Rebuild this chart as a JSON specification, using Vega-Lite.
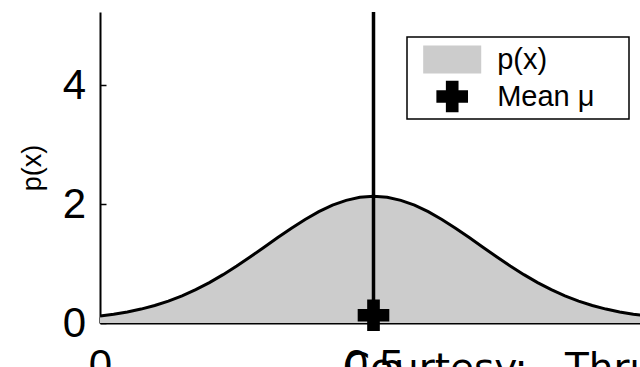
{
  "$schema": "https://vega.github.io/schema/vega-lite/v6.json",
  "width": 540,
  "height": 311,
  "autosize": {"type": "none"},
  "padding": {"left": 100, "top": 12, "right": 0, "bottom": 44},
  "background": "white",
  "config": {
    "view": {"stroke": null},
    "font": "Liberation Sans",
    "axis": {
      "grid": false,
      "domainColor": "black",
      "domainWidth": 2,
      "tickColor": "black",
      "tickWidth": 1.5,
      "tickSize": -6,
      "labelColor": "black",
      "labelFont": "Liberation Sans",
      "labelFontSize": 42,
      "titleColor": "black",
      "titleFont": "Liberation Sans",
      "titleFontWeight": "normal"
    },
    "legend": {
      "orient": "none",
      "legendX": 307,
      "legendY": 25,
      "strokeColor": "black",
      "strokeWidth": 1.5,
      "fillColor": "white",
      "padding": 6.5,
      "symbolSize": 1000,
      "symbolOffset": 22.7,
      "labelOffset": 29,
      "rowPadding": 6,
      "symbolStrokeWidth": 0,
      "labelFont": "Liberation Sans",
      "labelFontSize": 29,
      "labelColor": "black",
      "labelLimit": 400,
      "titleOrient": "right",
      "titleFontSize": 8,
      "titlePadding": 25,
      "titleColor": "white"
    }
  },
  "datasets": {
    "curve": [
      {"x": 0.000, "y": 0.118, "series": "p(x)"},
      {"x": 0.025, "y": 0.148, "series": "p(x)"},
      {"x": 0.050, "y": 0.186, "series": "p(x)"},
      {"x": 0.075, "y": 0.234, "series": "p(x)"},
      {"x": 0.100, "y": 0.295, "series": "p(x)"},
      {"x": 0.125, "y": 0.369, "series": "p(x)"},
      {"x": 0.150, "y": 0.457, "series": "p(x)"},
      {"x": 0.175, "y": 0.561, "series": "p(x)"},
      {"x": 0.200, "y": 0.680, "series": "p(x)"},
      {"x": 0.225, "y": 0.813, "series": "p(x)"},
      {"x": 0.250, "y": 0.959, "series": "p(x)"},
      {"x": 0.275, "y": 1.114, "series": "p(x)"},
      {"x": 0.300, "y": 1.275, "series": "p(x)"},
      {"x": 0.325, "y": 1.437, "series": "p(x)"},
      {"x": 0.350, "y": 1.595, "series": "p(x)"},
      {"x": 0.375, "y": 1.742, "series": "p(x)"},
      {"x": 0.400, "y": 1.872, "series": "p(x)"},
      {"x": 0.425, "y": 1.981, "series": "p(x)"},
      {"x": 0.450, "y": 2.062, "series": "p(x)"},
      {"x": 0.475, "y": 2.113, "series": "p(x)"},
      {"x": 0.500, "y": 2.130, "series": "p(x)"},
      {"x": 0.525, "y": 2.113, "series": "p(x)"},
      {"x": 0.550, "y": 2.062, "series": "p(x)"},
      {"x": 0.575, "y": 1.981, "series": "p(x)"},
      {"x": 0.600, "y": 1.872, "series": "p(x)"},
      {"x": 0.625, "y": 1.742, "series": "p(x)"},
      {"x": 0.650, "y": 1.595, "series": "p(x)"},
      {"x": 0.675, "y": 1.437, "series": "p(x)"},
      {"x": 0.700, "y": 1.275, "series": "p(x)"},
      {"x": 0.725, "y": 1.114, "series": "p(x)"},
      {"x": 0.750, "y": 0.959, "series": "p(x)"},
      {"x": 0.775, "y": 0.813, "series": "p(x)"},
      {"x": 0.800, "y": 0.680, "series": "p(x)"},
      {"x": 0.825, "y": 0.561, "series": "p(x)"},
      {"x": 0.850, "y": 0.457, "series": "p(x)"},
      {"x": 0.875, "y": 0.369, "series": "p(x)"},
      {"x": 0.900, "y": 0.295, "series": "p(x)"},
      {"x": 0.925, "y": 0.234, "series": "p(x)"},
      {"x": 0.950, "y": 0.186, "series": "p(x)"},
      {"x": 0.975, "y": 0.148, "series": "p(x)"},
      {"x": 1.000, "y": 0.118, "series": "p(x)"}
    ],
    "mean": [{"x": 0.5, "y": 0.13, "series": "Mean μ"}],
    "meanline": [{"x": 0.5, "y": 0, "y2": 5.23}],
    "note": [{"x": 0.444, "y": -0.98, "text": "Courtesy:\u00a0\u00a0\u00a0Thrun"}]
  },
  "layer": [
    {
      "data": {"name": "curve"},
      "mark": {"type": "area", "clip": true, "opacity": 1},
      "encoding": {
        "x": {"field": "x", "type": "quantitative", "scale": {"domain": [0, 0.9872], "nice": false},
              "axis": {"values": [0, 0.5], "format": "~g", "title": null, "labelPadding": 28, "labelFlush": false}},
        "y": {"field": "y", "type": "quantitative", "scale": {"domain": [0, 5.23], "nice": false},
              "axis": {"values": [0, 2, 4], "format": "d", "title": "p(x)", "titleFontSize": 27, "labelPadding": 20.5, "titlePadding": 16}},
        "color": {"field": "series", "type": "nominal",
                  "scale": {"domain": ["p(x)", "Mean μ"], "range": ["#cccccc", "#000000"]},
                  "legend": {"title": "."}}
      }
    },
    {
      "data": {"name": "curve"},
      "mark": {"type": "line", "clip": true, "color": "black", "strokeWidth": 3},
      "encoding": {
        "x": {"field": "x", "type": "quantitative"},
        "y": {"field": "y", "type": "quantitative"}
      }
    },
    {
      "data": {"name": "meanline"},
      "mark": {"type": "rule", "color": "black", "strokeWidth": 3.5},
      "encoding": {
        "x": {"field": "x", "type": "quantitative"},
        "y": {"field": "y", "type": "quantitative"},
        "y2": {"field": "y2"}
      }
    },
    {
      "data": {"name": "mean"},
      "mark": {"type": "point", "filled": true, "opacity": 1, "size": 1000, "strokeWidth": 0},
      "encoding": {
        "x": {"field": "x", "type": "quantitative"},
        "y": {"field": "y", "type": "quantitative"},
        "color": {"field": "series", "type": "nominal", "legend": {"title": "."}},
        "shape": {"field": "series", "type": "nominal",
                  "scale": {"domain": ["p(x)", "Mean μ"], "range": ["M-1.835,-0.886H1.835V0.886H-1.835Z", "cross"]},
                  "legend": {"title": "."}}
      }
    },
    {
      "data": {"name": "note"},
      "mark": {"type": "text", "align": "left", "baseline": "alphabetic", "font": "DejaVu Sans", "fontSize": 39, "color": "black"},
      "encoding": {
        "x": {"field": "x", "type": "quantitative"},
        "y": {"field": "y", "type": "quantitative"},
        "text": {"field": "text"}
      }
    }
  ]
}
